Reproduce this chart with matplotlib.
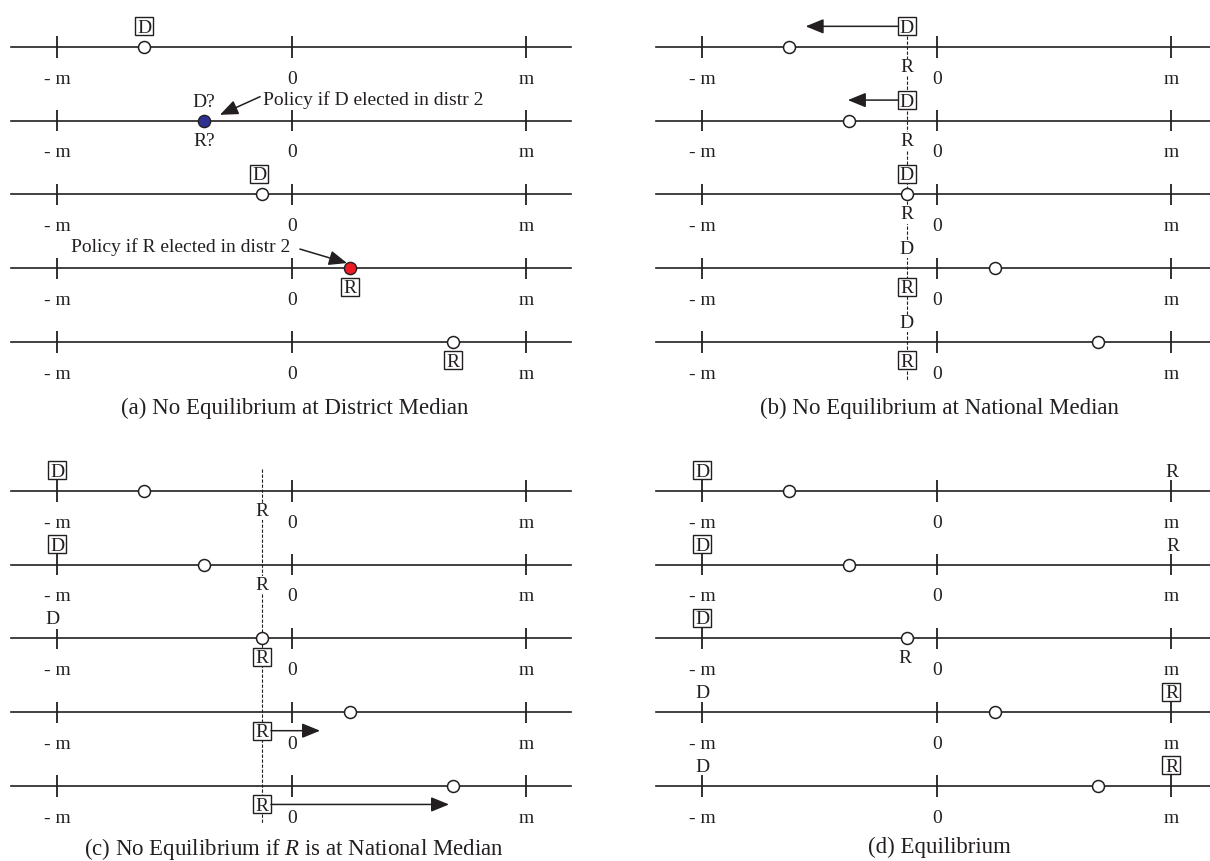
import matplotlib
matplotlib.use("Agg")
import matplotlib.pyplot as plt

plt.rcParams['font.family'] = ['Liberation Serif', 'DejaVu Serif']
plt.rcParams['mathtext.fontset'] = 'custom'
plt.rcParams['mathtext.rm'] = 'Liberation Serif'
plt.rcParams['mathtext.it'] = 'Liberation Serif:italic'

# district medians (in units of m), one per row, top to bottom
medians = [-0.63, -0.375, -0.128, 0.247, 0.687]
national_median = -0.128
tick_pos = [-1, 0, 1]
tick_labels = ['- m', '0', 'm']

captions = ['(a) No Equilibrium at District Median',
            '(b) No Equilibrium at National Median',
            '(c) No Equilibrium if $R$ is at National Median',
            '(d) Equilibrium']

# (row, label, policy position, boxed, side)
marks_a = [(0, 'D', -0.63, True, 'above'),
           (1, 'D?', -0.375, False, 'above'),
           (1, 'R?', -0.375, False, 'below'),
           (2, 'D', -0.14, True, 'above'),
           (3, 'R', 0.247, True, 'below'),
           (4, 'R', 0.687, True, 'below')]
marks_b = [(0, 'D', -0.128, True, 'above'), (0, 'R', -0.128, False, 'below'),
           (1, 'D', -0.128, True, 'above'), (1, 'R', -0.128, False, 'below'),
           (2, 'D', -0.128, True, 'above'), (2, 'R', -0.128, False, 'below'),
           (3, 'D', -0.128, False, 'above'), (3, 'R', -0.128, True, 'below'),
           (4, 'D', -0.128, False, 'above'), (4, 'R', -0.128, True, 'below')]
marks_c = [(0, 'D', -1, True, 'above'), (0, 'R', -0.128, False, 'below'),
           (1, 'D', -1, True, 'above'), (1, 'R', -0.128, False, 'below'),
           (2, 'D', -1.02, False, 'above'), (2, 'R', -0.128, True, 'below'),
           (3, 'R', -0.128, True, 'below'),
           (4, 'R', -0.128, True, 'below')]
marks_d = [(0, 'D', -1, True, 'above'), (0, 'R', 1, False, 'above'),
           (1, 'D', -1, True, 'above'), (1, 'R', 1.005, False, 'above'),
           (2, 'D', -1, True, 'above'), (2, 'R', -0.135, False, 'below'),
           (3, 'D', -1, False, 'above'), (3, 'R', 1, True, 'above'),
           (4, 'D', -1, False, 'above'), (4, 'R', 1, True, 'above')]

# platform moves: (row, from, to)
moves_b = [(0, -0.128, -0.56), (1, -0.128, -0.38)]
moves_c = [(3, -0.128, 0.12), (4, -0.128, 0.67)]

ink = '#231f20'
blue = '#2e3192'
red = '#ed1c24'
head = '-|>,head_length=1.1,head_width=0.45'

W, H = 1210, 861
fig = plt.figure(figsize=(W / 100, H / 100), dpi=100)
fig.patch.set_facecolor('white')


def make_axes(left, top):
    # 605 x 430 px box, 234.5 px per m, 73.75 px per row
    ax = fig.add_axes([left / W, 1 - (top + 430) / H, 605 / W, 430 / H])
    ax.set_xlim(-1.245, 1.335)
    ax.set_ylim(5.193, -0.637)
    ax.axis('off')
    return ax


def draw_rows(ax):
    for r in range(len(medians)):
        ax.plot([-1.2, 1.19], [r, r], color=ink, lw=1.2, zorder=2)
        ax.vlines(tick_pos, r - 0.145, r + 0.145, color=ink, lw=1.3, zorder=2)
        for x, lab in zip(tick_pos, tick_labels):
            ax.text(x, r + 0.41, lab, ha='center', va='center_baseline',
                    fontsize=14, color=ink)


def draw_medians(ax, skip=()):
    for r, m in enumerate(medians):
        if r in skip:
            continue
        ax.plot(m, r, 'o', ms=8.6, mfc='white', mec=ink, mew=1.1, zorder=5)


def draw_marks(ax, marks, dashed=False):
    for r, lab, x, boxed, side in marks:
        y = r - 0.28 if side == 'above' else r + 0.25
        if boxed:
            ax.plot(x, y, 's', ms=12.8, mfc='white', mec=ink, mew=1.0, zorder=6)
            ax.text(x, y, lab, ha='center', va='center_baseline', fontsize=14,
                    color=ink, zorder=7)
        elif dashed:
            ax.text(x, y, lab, ha='center', va='center_baseline', fontsize=14,
                    color=ink, zorder=7,
                    bbox=dict(fc='white', ec='none', pad=0.2))
        else:
            ax.text(x, y, lab, ha='center', va='center_baseline', fontsize=14,
                    color=ink, zorder=7)


def draw_moves(ax, moves, side):
    for r, x0, x1 in moves:
        y = r - 0.28 if side == 'above' else r + 0.25
        ax.annotate('', xy=(x1, y), xytext=(x0, y),
                    arrowprops=dict(arrowstyle=head, mutation_scale=10,
                                    color=ink, lw=1.1, shrinkA=6.5, shrinkB=0),
                    zorder=6)


def draw_caption(ax, text, y=4.87):
    ax.text(0.01, y, text, ha='center', va='center_baseline', fontsize=16.5,
            color=ink)


# (a)
ax = make_axes(0, 0)
draw_rows(ax)
draw_medians(ax, skip=(1, 3))
ax.plot(medians[1], 1, 'o', ms=8.8, mfc=blue, mec=ink, mew=1.0, zorder=5)
ax.plot(medians[3], 3, 'o', ms=8.8, mfc=red, mec=ink, mew=1.0, zorder=5)
draw_marks(ax, marks_a)
ax.annotate('Policy if D elected in distr 2', xy=(medians[1] + 0.068, 1 - 0.08),
            xytext=(-0.124, 1 - 0.31), ha='left', va='center_baseline',
            fontsize=14, color=ink,
            arrowprops=dict(arrowstyle=head, mutation_scale=10, color=ink,
                            lw=1.1, relpos=(0, 0.75), shrinkA=0, shrinkB=0))
ax.text(-0.005, 3 - 0.31, 'Policy if R elected in distr 2', ha='right',
        va='center_baseline', fontsize=14, color=ink)
ax.annotate('', xy=(medians[3] - 0.012, 3 - 0.07), xytext=(0.034, 3 - 0.26),
            arrowprops=dict(arrowstyle=head, mutation_scale=10, color=ink,
                            lw=1.1, shrinkA=0, shrinkB=0))
draw_caption(ax, captions[0])

# (b)
ax = make_axes(645, 0)
ax.vlines(national_median, -0.15, 4.51, color=ink, lw=0.8,
          linestyles=(0, (3, 1.5)), zorder=3)
draw_rows(ax)
draw_medians(ax)
draw_marks(ax, marks_b, dashed=True)
draw_moves(ax, moves_b, 'above')
draw_caption(ax, captions[1])

# (c)
ax = make_axes(0, 444)
ax.vlines(national_median, -0.30, 4.51, color=ink, lw=0.8,
          linestyles=(0, (3, 1.5)), zorder=3)
draw_rows(ax)
draw_medians(ax)
draw_marks(ax, marks_c, dashed=True)
draw_moves(ax, moves_c, 'below')
draw_caption(ax, captions[2], y=4.80)

# (d)
ax = make_axes(645, 444)
draw_rows(ax)
draw_medians(ax)
draw_marks(ax, marks_d)
draw_caption(ax, captions[3], y=4.80)

fig.savefig('out.png', dpi=100, facecolor='white')
